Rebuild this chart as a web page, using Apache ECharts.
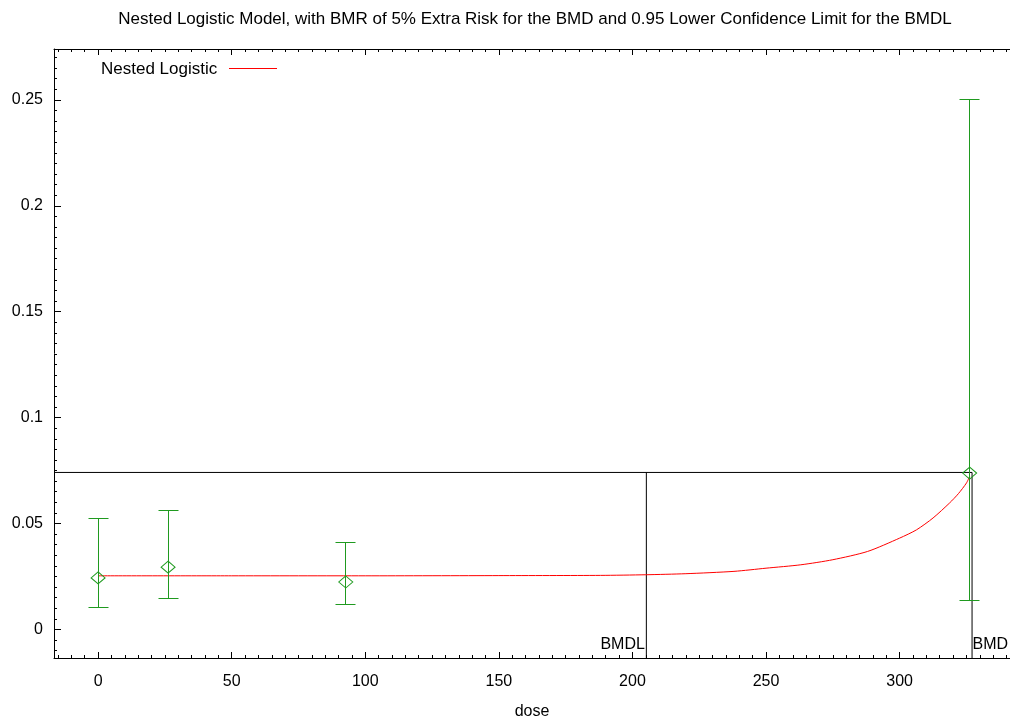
<!DOCTYPE html>
<html>
<head>
<meta charset="utf-8">
<script src="https://cdn.jsdelivr.net/npm/echarts@6/dist/echarts.min.js"></script>
<style>
html,body{margin:0;padding:0;background:#fff;}
#chart{width:1010px;height:719px;}
</style>
</head>
<body>
<div id="chart"></div>
<script>
// ---- data ----
const titleText = 'Nested Logistic Model, with BMR of 5% Extra Risk for the BMD and 0.95 Lower Confidence Limit for the BMDL';
const xAxisName = 'dose';
const seriesName = 'Nested Logistic';

const doses = [0, 26.2, 92.7, 326.2];
const means = [0.0243, 0.0294, 0.0224, 0.0738];
const lowerCL = [0.0104, 0.0148, 0.0117, 0.0136];
const upperCL = [0.0524, 0.0560, 0.0411, 0.2500];

const curveDose = [0, 50, 100, 150, 188, 205, 220, 238, 250, 263, 275, 288, 300, 306.3, 312.5, 318.7, 322, 325, 326.2];
const curveP    = [0.0253, 0.0253, 0.0253, 0.0254, 0.0255, 0.0258, 0.0263, 0.0274, 0.0289, 0.0305, 0.0329, 0.0368, 0.0431, 0.0470, 0.0526, 0.0597, 0.0641, 0.0691, 0.0722];

const bmrLevel = 0.0741;
const bmd = 327.1;
const bmdl = 205.2;

const xMajorTicks = [0, 50, 100, 150, 200, 250, 300];
const yMajorTicks = [0, 0.05, 0.1, 0.15, 0.2, 0.25];

const xMin = -16.5, xMax = 341.3;
const yMin = -0.0135, yMax = 0.274;

// minor tick positions
const xMinorTicks = [];
for (let v = -15; v <= 340; v += 5) xMinorTicks.push(v);
const yMinorTicks = [];
for (let i = -2; i <= 54; i++) yMinorTicks.push(+(i * 0.005).toFixed(3));

const FONT = '"Liberation Sans", Arial, sans-serif';
const GREEN = '#1f9a1f';
const RED = '#ff0000';

const chart = echarts.init(document.getElementById('chart'), null, {renderer: 'canvas'});

function xAxisDef(pos, ticks, len, showLine, showLabel) {
  return {
    type: 'value', position: pos, min: xMin, max: xMax,
    axisLine: {show: showLine, onZero: false, lineStyle: {color: '#000', width: 1}},
    axisTick: {show: true, inside: true, length: len, customValues: ticks, lineStyle: {color: '#000', width: 1}},
    axisLabel: showLabel ? {show: true, customValues: ticks, margin: 16, color: '#000', fontSize: 16, fontFamily: FONT} : {show: false},
    splitLine: {show: false},
    name: showLabel ? xAxisName : '',
    nameLocation: 'middle', nameGap: 46,
    nameTextStyle: {color: '#000', fontSize: 16, fontFamily: FONT}
  };
}
function yAxisDef(pos, ticks, len, showLine, showLabel) {
  return {
    type: 'value', position: pos, min: yMin, max: yMax,
    axisLine: {show: showLine, onZero: false, lineStyle: {color: '#000', width: 1}},
    axisTick: {show: true, inside: true, length: len, customValues: ticks, lineStyle: {color: '#000', width: 1}},
    axisLabel: showLabel ? {show: true, customValues: ticks, margin: 11, color: '#000', fontSize: 16, fontFamily: FONT} : {show: false},
    splitLine: {show: false}
  };
}

function crisp(v) { return Math.round(v - 0.5) + 0.5; }

const option = {
  animation: false,
  backgroundColor: '#fff',
  color: [RED, GREEN, '#000'],
  grid: {left: 54, top: 49, right: 0, bottom: 61, containLabel: false, outerBoundsMode: 'none'},
  graphic: [
    {
      type: 'text', x: 535, y: 19,
      style: {text: titleText, fill: '#000', font: '17px ' + FONT, align: 'center', verticalAlign: 'middle', textAlign: 'center', textVerticalAlign: 'middle'}
    },
    {
      type: 'line', shape: {x1: 229, y1: 68.5, x2: 277, y2: 68.5},
      style: {stroke: RED, lineWidth: 1}
    }
  ],
  legend: {
    show: true, left: 96, top: 56, align: 'right',
    itemWidth: 48, itemHeight: 10, itemGap: 0,
    icon: 'none',
    data: [seriesName],
    textStyle: {color: '#000', fontSize: 17, fontFamily: FONT, padding: [0, 6, 0, 0]}
  },
  xAxis: [
    xAxisDef('bottom', xMajorTicks, 6, true, true),
    xAxisDef('bottom', xMinorTicks, 3, false, false),
    xAxisDef('top', xMajorTicks, 6, true, false),
    xAxisDef('top', xMinorTicks, 3, false, false)
  ],
  yAxis: [
    yAxisDef('left', yMajorTicks, 7, true, true),
    yAxisDef('left', yMinorTicks, 3, false, false)
  ],
  series: [
    {
      name: seriesName, type: 'line', xAxisIndex: 0, yAxisIndex: 0,
      data: curveDose.map((d, i) => [d, curveP[i]]),
      smooth: 0.25, symbol: 'none',
      lineStyle: {color: RED, width: 1}, itemStyle: {color: RED}, z: 4
    },
    {
      name: 'BMD lines', type: 'line', xAxisIndex: 0, yAxisIndex: 0,
      data: [[xMin, bmrLevel], [bmd, bmrLevel], [bmd, yMin]],
      symbol: 'none', lineStyle: {color: '#000', width: 1}, silent: true, z: 2
    },
    {
      name: 'BMDL line', type: 'line', xAxisIndex: 0, yAxisIndex: 0,
      data: [[bmdl, bmrLevel], [bmdl, yMin]],
      symbol: 'none', lineStyle: {color: '#000', width: 1}, silent: true, z: 2
    },
    {
      name: 'BMD labels', type: 'scatter', xAxisIndex: 0, yAxisIndex: 0,
      data: [
        {value: [bmdl, yMin], label: {formatter: 'BMDL', position: [-1, -5], align: 'right', verticalAlign: 'bottom'}},
        {value: [bmd, yMin], label: {formatter: 'BMD', position: [1, -5], align: 'left', verticalAlign: 'bottom'}}
      ],
      symbolSize: 1, itemStyle: {color: 'rgba(0,0,0,0)', opacity: 1},
      label: {show: true, color: '#000', opacity: 1, fontSize: 16, fontFamily: FONT}, silent: true, z: 3
    },
    {
      name: 'Error bars', type: 'custom', xAxisIndex: 0, yAxisIndex: 0,
      itemStyle: {color: GREEN, opacity: 1},
      data: doses.map((d, i) => [d, lowerCL[i], upperCL[i]]),
      renderItem: function (params, api) {
        const lo = api.coord([api.value(0), api.value(1)]);
        const hi = api.coord([api.value(0), api.value(2)]);
        const x = crisp(lo[0]), yl = crisp(lo[1]), yh = crisp(hi[1]);
        const hw = 10;
        const d = 'M' + (x - hw) + ' ' + yl + ' L' + (x + hw) + ' ' + yl +
                  ' M' + x + ' ' + yl + ' L' + x + ' ' + yh +
                  ' M' + (x - hw) + ' ' + yh + ' L' + (x + hw) + ' ' + yh;
        return {
          type: 'path',
          shape: {pathData: d},
          style: {stroke: GREEN, fill: null, lineWidth: 1, opacity: 1}
        };
      },
      silent: true, z: 5
    },
    {
      name: 'Observed', type: 'scatter', xAxisIndex: 0, yAxisIndex: 0,
      data: doses.map((d, i) => [d, means[i]]),
      symbol: 'diamond', symbolSize: [14, 12],
      itemStyle: {color: 'rgba(255,255,255,0)', borderColor: GREEN, borderWidth: 1, opacity: 1}, silent: true, z: 6
    }
  ]
};
chart.setOption(option);
</script>
</body>
</html>
